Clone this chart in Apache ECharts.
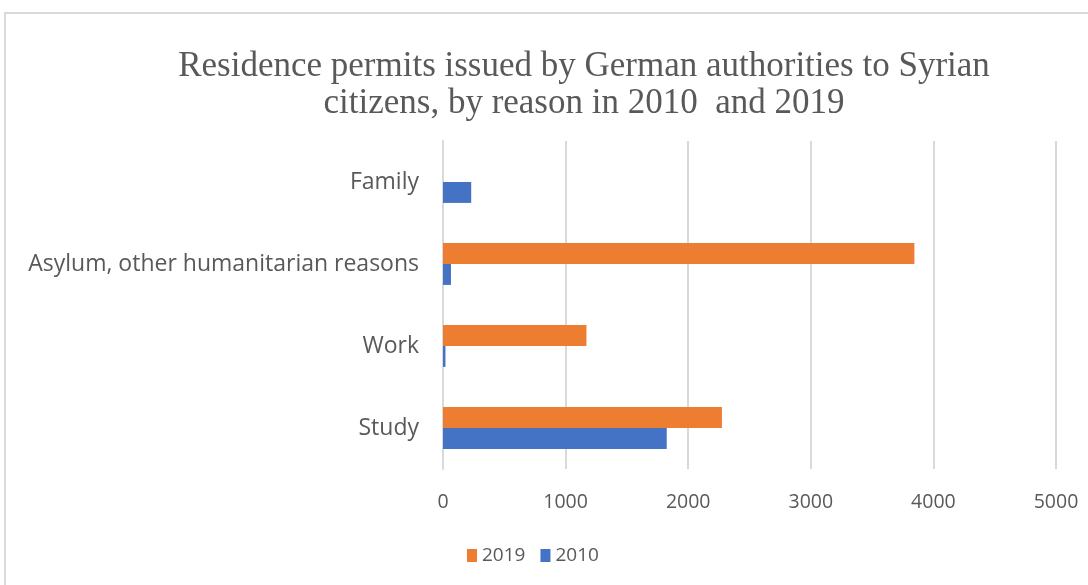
<!DOCTYPE html>
<html>
<head>
<meta charset="utf-8">
<script src="https://cdn.jsdelivr.net/npm/echarts@6/dist/echarts.min.js"></script>
<style>
  html, body { margin: 0; padding: 0; background: #fff; }
  #chart { width: 1088px; height: 585px; }
</style>
</head>
<body>
<div id="chart"></div>
<script>
// Reasons, listed bottom to top on the category axis
const reasons = ['Study', 'Work', 'Asylum, other humanitarian reasons', 'Family'];
// Permits issued, per reason
const values2019 = [2275, 1170, 3845, 0];
const values2010 = [1825, 20, 65, 230];
const xTicks = [0, 1000, 2000, 3000, 4000, 5000];

const chart = echarts.init(document.getElementById('chart'), null, { renderer: 'canvas' });

chart.setOption({
  animation: false,
  backgroundColor: '#ffffff',
  graphic: [{
    type: 'rect',
    shape: { x: 5, y: 13, width: 1200, height: 700 },
    style: { fill: 'none', stroke: '#d9d9d9', lineWidth: 2 },
    silent: true
  }],
  title: {
    text: 'Residence permits issued by German authorities to Syrian\ncitizens, by reason in 2010  and 2019',
    left: 579,
    textAlign: 'center',
    top: 43,
    textStyle: {
      fontFamily: 'Liberation Serif',
      fontWeight: 'normal',
      fontSize: 35,
      lineHeight: 37,
      color: '#595959'
    }
  },
  legend: {
    data: ['2019', '2010'],
    bottom: 15,
    left: 462,
    itemWidth: 10,
    itemHeight: 13,
    itemGap: 15,
    icon: 'rect',
    textStyle: { fontFamily: 'Open Sans', fontSize: 19, color: '#595959' }
  },
  grid: { left: 443, right: 32, top: 141, bottom: 116, containLabel: false },
  xAxis: {
    type: 'value',
    min: xTicks[0],
    max: xTicks[xTicks.length - 1],
    interval: 1000,
    axisLine: { show: false },
    axisTick: { show: false },
    splitLine: { lineStyle: { color: '#d9d9d9', width: 2 } },
    axisLabel: {
      margin: 23,
      fontFamily: 'Open Sans',
      fontSize: 19.5,
      color: '#595959',
      formatter: (v) => String(v)
    }
  },
  yAxis: {
    type: 'category',
    data: reasons,
    axisLine: { show: true, lineStyle: { color: '#d9d9d9', width: 2 } },
    axisTick: { show: false },
    axisLabel: {
      margin: 24,
      fontFamily: 'Open Sans',
      fontSize: 23,
      color: '#595959'
    }
  },
  series: [
    {
      name: '2019',
      type: 'bar',
      data: values2019,
      itemStyle: { color: '#ed7d31' },
      barGap: '0%',
      barCategoryGap: '49%'
    },
    {
      name: '2010',
      type: 'bar',
      data: values2010,
      itemStyle: { color: '#4472c4' },
      barGap: '0%',
      barCategoryGap: '49%'
    }
  ]
});
</script>
</body>
</html>
